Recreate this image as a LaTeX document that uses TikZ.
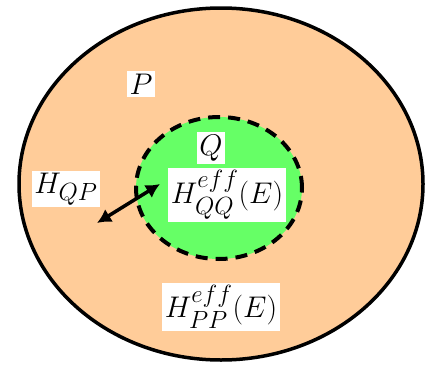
\documentclass[tikz,border=0pt]{standalone}
\usepackage{amsmath}
\usepackage{tikz}
\usetikzlibrary{shapes.geometric,arrows.meta,positioning}

\definecolor{peach}{RGB}{255,204,153}
\definecolor{lightgreen}{RGB}{102,255,102}
\newcommand{\bigmath}[1]{\scalebox{1.2}{$#1$}}

\begin{document}
\begin{tikzpicture}[
    x=1pt, y=-1pt,
    space/.style={ellipse, draw=black, line width=3.5pt, inner sep=0pt},
    label/.style={rectangle, fill=white, inner sep=2.5pt, font=\fontsize{24.88}{30}\selectfont},
    arrow/.style={{Latex[length=14pt,width=15pt]}-{Latex[length=14pt,width=15pt]}, line width=3.5pt}
]
\useasboundingbox (0,0) rectangle (425,364);

% Spaces
\node (pspace) [space, fill=peach, minimum width=404pt, minimum height=352pt] at (221,184) {};
\node (qspace) [space, fill=lightgreen, dashed, dash pattern=on 12pt off 8pt, line width=4pt, minimum width=166pt, minimum height=142pt] at (219,188) {};

% Labels
\node (plabel) [label] at (141,84) {\bigmath{P}};
\node (qlabel) [label] at (211,148) {\bigmath{Q}};
\node (hqq) [label] at (227,195) {\bigmath{H^{eff}_{QQ}(E)}};
\node (hqp) [label] at (66,189) {\bigmath{H_{QP}}};
\node (hpp) [label] at (221,307) {\bigmath{H^{eff}_{PP}(E)}};

% Coupling
\coordinate (outer) at (97,223);
\coordinate (inner) at (160,184);
\draw [arrow] (outer) -- (inner);

\end{tikzpicture}
\end{document}
